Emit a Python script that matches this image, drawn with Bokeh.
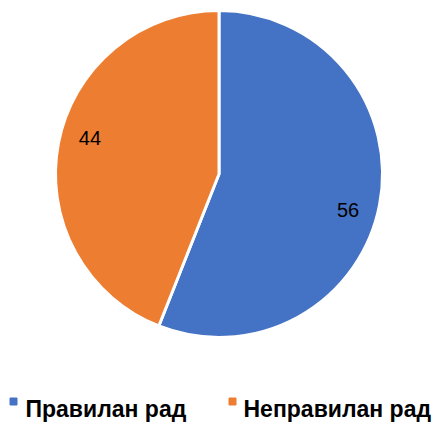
import numpy as np
from bokeh.plotting import figure
from bokeh.models import Range1d, ColumnDataSource
from bokeh.core.properties import value
from bokeh.embed import file_html
from bokeh.resources import INLINE

categories = ["Правилан рад", "Неправилан рад"]
values = [56, 44]
colors = ["#4472C4", "#ED7D31"]

W, H = 440, 423
p = figure(width=W, height=H, x_range=Range1d(0, W), y_range=Range1d(0, H),
           output_backend="svg", toolbar_location=None, min_border=0)
p.axis.visible = False
p.grid.visible = False
p.outline_line_color = None
p.background_fill_color = "white"

cx, cy, r = 218.5, H - 173.5, 163.5
vals = np.array(values, dtype=float)
fr = vals / vals.sum()
# clockwise from 12 o'clock
ends_cw = np.cumsum(fr) * 2 * np.pi
starts_cw = ends_cw - fr * 2 * np.pi
start_angle = np.pi / 2 - ends_cw
end_angle = np.pi / 2 - starts_cw
mid = (start_angle + end_angle) / 2 - 0.085

src = ColumnDataSource(dict(start=start_angle, end=end_angle, color=colors,
                            lx=cx + 0.82 * r * np.cos(mid),
                            ly=cy + 0.82 * r * np.sin(mid),
                            label=[str(v) for v in values]))
p.wedge(x=cx, y=cy, radius=r, start_angle="start", end_angle="end",
        fill_color="color", line_color="white", line_width=3, source=src)
p.text(x="lx", y="ly", text="label", source=src, text_align="center",
       text_baseline="middle", text_font=value("Liberation Sans"),
       text_font_size="20px", text_color="black")

# legend
leg = ColumnDataSource(dict(
    mx=[13, 232], tx=[25, 243], name=categories, color=colors))
p.scatter(x="mx", y=H - 401, marker="square", size=7, color="color",
          source=leg)
p.text(x="tx", y=H - 408, text="name", source=leg, text_align="left",
       text_baseline="alphabetic", text_font=value("Liberation Sans"),
       text_font_style="bold", text_font_size="23px", text_color="black")

open("out.html", "w").write(file_html(p, INLINE))
